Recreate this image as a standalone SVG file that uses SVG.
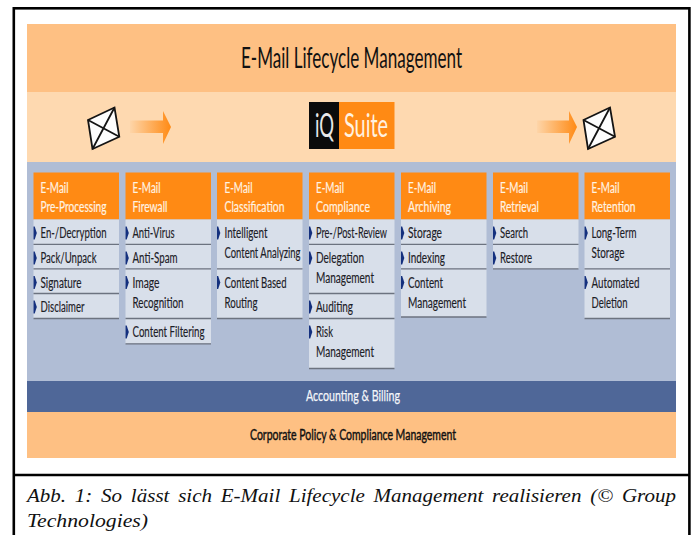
<svg xmlns="http://www.w3.org/2000/svg" width="693" height="535" viewBox="0 0 693 535">
<style>
text{font-family:"Lato","Liberation Sans",sans-serif}
.h{fill:#ff8a14}
.hd{font-size:15.5px;fill:#fff3e2;stroke:#fff3e2;stroke-width:.2}
.t{font-size:15.500px;fill:#1c2026;stroke:#1c2026;stroke-width:.15}
.i{fill:#d8dfea}
.l{stroke:#6c7380;stroke-width:1.3;fill:none}
.env{fill:#fdfdfd;stroke:#141414;stroke-width:1.8;stroke-linejoin:miter}
.cap{font-family:"Liberation Serif",serif;font-style:italic;font-size:18px;fill:#111}
</style>
<defs>
<path id="m" d="M0-6.500 L1.200-6.500 L3.300 0 L1.200 6.500 L0 6.500 Z" fill="#14307e"/>
<linearGradient id="ga" x1="0" x2="1" y1="0" y2="0"><stop offset="0" stop-color="#ff8a14" stop-opacity="0.05"/><stop offset="1" stop-color="#ff8a14"/></linearGradient>
</defs>
<rect width="693" height="535" fill="#fff"/>
<g id="frame" fill="none" stroke="#000" stroke-width="2.6"><rect x="13.800" y="8.300" width="675.600" height="560"/><path d="M13.800 475H689.400"/></g>
<g id="band-title"><rect x="27" y="24" width="649" height="68" fill="#fec083"/><text x="241" y="68" font-size="28" textLength="221" lengthAdjust="spacingAndGlyphs" fill="#111">E-Mail Lifecycle Management</text></g>
<g id="band-flow"><rect x="27" y="92" width="649" height="70" fill="#fed9b0"/></g>
<g id="band-main"><rect x="27" y="162" width="649" height="219" fill="#b0bdd5"/></g>
<g id="envelope-in"><path class="env" d="M88 120L114.500 107.500L119.300 136.800L92.500 149Z"/><path class="env" fill="none" d="M88 120L119.300 136.800M114.500 107.500L92.500 149"/></g>
<g id="arrow-in"><path fill="url(#ga)" d="M130 120.500H163V111L171 127L163 144V133H130Z"/></g>
<g id="logo"><rect x="309" y="102" width="30" height="47" fill="#0b0b0b"/><rect x="339" y="102" width="55.500" height="47" fill="#ff8a14"/><text x="315" y="137" font-size="32" textLength="19" lengthAdjust="spacingAndGlyphs" fill="#e8e8e8">iQ</text><text x="344" y="137" font-size="32" textLength="44" lengthAdjust="spacingAndGlyphs" fill="#fff2e0">Suite</text></g>
<g id="arrow-out"><path fill="url(#ga)" d="M537 120.500H569V111L577 127L569 144V133H537Z"/></g>
<g id="envelope-out"><path class="env" d="M583.500 120L610 107.500L615 136.800L588 149Z"/><path class="env" fill="none" d="M583.500 120L615 136.800M610 107.500L588 149"/></g>

<g id="connectors"></g>

<g id="col-preprocessing">
<rect class="h" x="33.500" y="172.500" width="85.500" height="47"/>
<text class="hd" x="40.500" y="192.500" textLength="28" lengthAdjust="spacingAndGlyphs">E-Mail</text><text class="hd" x="40.500" y="211.500" textLength="66" lengthAdjust="spacingAndGlyphs">Pre-Processing</text>
<rect class="i" x="33.500" y="219.500" width="85.500" height="99"/>
<path class="l" d="M33.500 244.300H119M33.500 268.800H119M33.500 293.500H119M33.500 318.500H119"/>
<use href="#m" x="33.500" y="233"/><use href="#m" x="33.500" y="258"/><use href="#m" x="33.500" y="282.500"/><use href="#m" x="33.500" y="307"/>
<text class="t" x="40.500" y="238" textLength="66" lengthAdjust="spacingAndGlyphs">En-/Decryption</text>
<text class="t" x="40.500" y="262.500" textLength="56" lengthAdjust="spacingAndGlyphs">Pack/Unpack</text>
<text class="t" x="40.500" y="287.500" textLength="41" lengthAdjust="spacingAndGlyphs">Signature</text>
<text class="t" x="40.500" y="312" textLength="44" lengthAdjust="spacingAndGlyphs">Disclaimer</text>
</g>

<g id="col-firewall">
<rect class="h" x="125.500" y="172.500" width="85.500" height="47"/>
<text class="hd" x="132.500" y="192.500" textLength="28" lengthAdjust="spacingAndGlyphs">E-Mail</text><text class="hd" x="132.500" y="211.500" textLength="35" lengthAdjust="spacingAndGlyphs">Firewall</text>
<rect class="i" x="125.500" y="219.500" width="85.500" height="124"/>
<path class="l" d="M125.500 244.300H211M125.500 268.800H211M125.500 318.500H211M125.500 343.800H211"/>
<use href="#m" x="125.500" y="233"/><use href="#m" x="125.500" y="258"/><use href="#m" x="125.500" y="282.500"/><use href="#m" x="125.500" y="332"/>
<text class="t" x="132.500" y="238" textLength="42" lengthAdjust="spacingAndGlyphs">Anti-Virus</text>
<text class="t" x="132.500" y="262.500" textLength="45" lengthAdjust="spacingAndGlyphs">Anti-Spam</text>
<text class="t" x="132.500" y="287.500" textLength="27" lengthAdjust="spacingAndGlyphs">Image</text>
<text class="t" x="132.500" y="307.500" textLength="51" lengthAdjust="spacingAndGlyphs">Recognition</text>
<text class="t" x="132.500" y="337" textLength="72" lengthAdjust="spacingAndGlyphs">Content Filtering</text>
</g>

<g id="col-classification">
<rect class="h" x="217" y="172.500" width="85.500" height="47"/>
<text class="hd" x="224.500" y="192.500" textLength="28" lengthAdjust="spacingAndGlyphs">E-Mail</text><text class="hd" x="224.500" y="211.500" textLength="60" lengthAdjust="spacingAndGlyphs">Classification</text>
<rect class="i" x="217" y="219.500" width="85.500" height="99"/>
<path class="l" d="M217 268.800H302.500M217 318.500H302.500"/>
<use href="#m" x="217" y="233"/><use href="#m" x="217" y="282.500"/>
<text class="t" x="224.500" y="238" textLength="43" lengthAdjust="spacingAndGlyphs">Intelligent</text>
<text class="t" x="224.500" y="258" textLength="76" lengthAdjust="spacingAndGlyphs">Content Analyzing</text>
<text class="t" x="224.500" y="287.500" textLength="62" lengthAdjust="spacingAndGlyphs">Content Based</text>
<text class="t" x="224.500" y="307.500" textLength="33" lengthAdjust="spacingAndGlyphs">Routing</text>
</g>

<g id="col-compliance">
<rect class="h" x="309" y="172.500" width="85.500" height="47"/>
<text class="hd" x="316" y="192.500" textLength="28" lengthAdjust="spacingAndGlyphs">E-Mail</text><text class="hd" x="316" y="211.500" textLength="54" lengthAdjust="spacingAndGlyphs">Compliance</text>
<rect class="i" x="309" y="219.500" width="85.500" height="149"/>
<path class="l" d="M309 244.300H394.500M309 293.500H394.500M309 318.500H394.500M309 368.500H394.500"/>
<use href="#m" x="309" y="233"/><use href="#m" x="309" y="258"/><use href="#m" x="309" y="307"/><use href="#m" x="309" y="332"/>
<text class="t" x="316" y="238" textLength="71" lengthAdjust="spacingAndGlyphs">Pre-/Post-Review</text>
<text class="t" x="316" y="262.500" textLength="48" lengthAdjust="spacingAndGlyphs">Delegation</text>
<text class="t" x="316" y="282.500" textLength="58" lengthAdjust="spacingAndGlyphs">Management</text>
<text class="t" x="316" y="312" textLength="37" lengthAdjust="spacingAndGlyphs">Auditing</text>
<text class="t" x="316" y="337" textLength="17" lengthAdjust="spacingAndGlyphs">Risk</text>
<text class="t" x="316" y="357" textLength="58" lengthAdjust="spacingAndGlyphs">Management</text>
</g>

<g id="col-archiving">
<rect class="h" x="401" y="172.500" width="85.500" height="47"/>
<text class="hd" x="408" y="192.500" textLength="28" lengthAdjust="spacingAndGlyphs">E-Mail</text><text class="hd" x="408" y="211.500" textLength="43" lengthAdjust="spacingAndGlyphs">Archiving</text>
<rect class="i" x="401" y="219.500" width="85.500" height="97.500"/>
<path class="l" d="M401 244.300H486.500M401 268.800H486.500M401 317H486.500"/>
<use href="#m" x="401" y="233"/><use href="#m" x="401" y="258"/><use href="#m" x="401" y="282.500"/>
<text class="t" x="408" y="238" textLength="34" lengthAdjust="spacingAndGlyphs">Storage</text>
<text class="t" x="408" y="262.500" textLength="37" lengthAdjust="spacingAndGlyphs">Indexing</text>
<text class="t" x="408" y="287.500" textLength="35" lengthAdjust="spacingAndGlyphs">Content</text>
<text class="t" x="408" y="307.500" textLength="58" lengthAdjust="spacingAndGlyphs">Management</text>
</g>

<g id="col-retrieval">
<rect class="h" x="493" y="172.500" width="85.500" height="47"/>
<text class="hd" x="500" y="192.500" textLength="28" lengthAdjust="spacingAndGlyphs">E-Mail</text><text class="hd" x="500" y="211.500" textLength="39" lengthAdjust="spacingAndGlyphs">Retrieval</text>
<rect class="i" x="493" y="219.500" width="85.500" height="49.500"/>
<path class="l" d="M493 244.300H578.500M493 268.800H578.500"/>
<use href="#m" x="493" y="233"/><use href="#m" x="493" y="258"/>
<text class="t" x="500" y="238" textLength="28" lengthAdjust="spacingAndGlyphs">Search</text>
<text class="t" x="500" y="262.500" textLength="32" lengthAdjust="spacingAndGlyphs">Restore</text>
</g>

<g id="col-retention">
<rect class="h" x="584.500" y="172.500" width="85.500" height="47"/>
<text class="hd" x="591.500" y="192.500" textLength="28" lengthAdjust="spacingAndGlyphs">E-Mail</text><text class="hd" x="591.500" y="211.500" textLength="44" lengthAdjust="spacingAndGlyphs">Retention</text>
<rect class="i" x="584.500" y="219.500" width="85.500" height="99"/>
<path class="l" d="M584.500 268.800H670M584.500 318.500H670"/>
<use href="#m" x="584.500" y="233"/><use href="#m" x="584.500" y="282.500"/>
<text class="t" x="591.500" y="238" textLength="45" lengthAdjust="spacingAndGlyphs">Long-Term</text>
<text class="t" x="591.500" y="258" textLength="33" lengthAdjust="spacingAndGlyphs">Storage</text>
<text class="t" x="591.500" y="287.500" textLength="48" lengthAdjust="spacingAndGlyphs">Automated</text>
<text class="t" x="591.500" y="307.500" textLength="36" lengthAdjust="spacingAndGlyphs">Deletion</text>
</g>

<g id="band-billing"><rect x="27" y="381" width="649" height="31" fill="#4f6798"/><text x="306" y="401" font-size="15.500" stroke="#f4f6fa" stroke-width=".25" textLength="94" lengthAdjust="spacingAndGlyphs" fill="#f4f6fa">Accounting &amp; Billing</text></g>
<g id="band-policy"><rect x="27" y="412" width="649" height="46" fill="#fec083"/><text x="250" y="440" font-size="15.500" stroke="#111" stroke-width=".45" textLength="206" lengthAdjust="spacingAndGlyphs" fill="#111">Corporate Policy &amp; Compliance Management</text></g>

<g id="caption">
<text class="cap" x="27" y="502" textLength="649" lengthAdjust="spacingAndGlyphs" word-spacing="3">Abb. 1: So lässt sich E-Mail Lifecycle Management realisieren (© Group</text>
<text class="cap" x="27" y="526.500" textLength="121" lengthAdjust="spacingAndGlyphs">Technologies)</text>
</g>
</svg>
